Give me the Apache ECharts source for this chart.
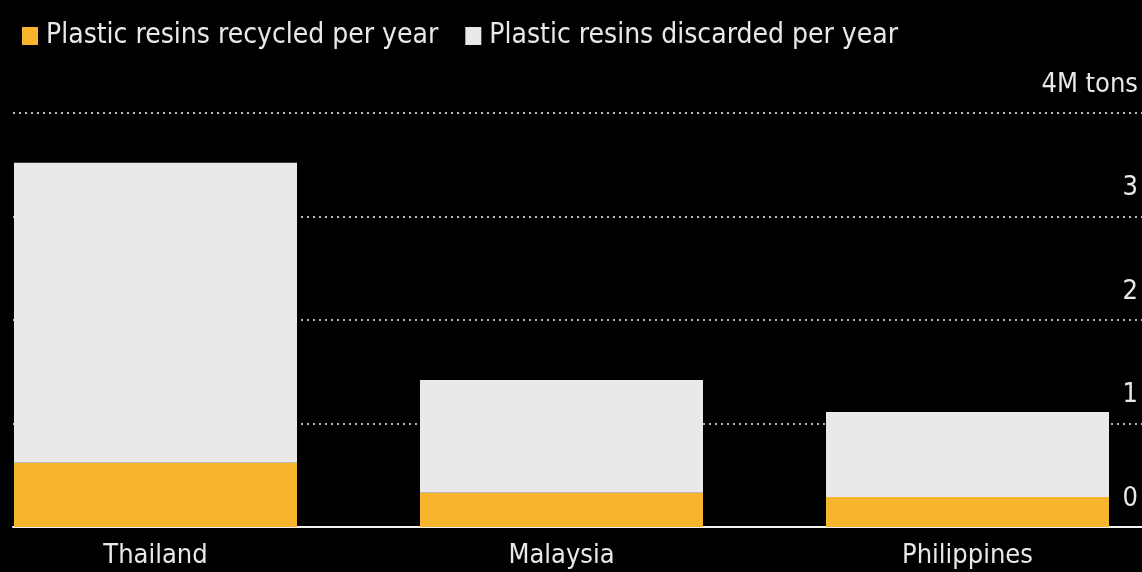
<!DOCTYPE html>
<html>
<head>
<meta charset="utf-8">
<script src="https://cdn.jsdelivr.net/npm/echarts@6/dist/echarts.min.js"></script>
<style>
html,body{margin:0;padding:0;background:#000;}
#chart{width:1142px;height:572px;}
</style>
</head>
<body>
<div id="chart"></div>
<script>
const categories = ['Thailand', 'Malaysia', 'Philippines'];
const recycled = [0.62, 0.33, 0.29];
const discarded = [2.90, 1.09, 0.82];
const yTickLabels = {0: '0', 1: '1', 2: '2', 3: '3', 4: '4M tons'};
const seriesNames = ['Plastic resins recycled per year', 'Plastic resins discarded per year'];

const FONT = '"DejaVu Sans Condensed", "DejaVu Sans", sans-serif';
const chart = echarts.init(document.getElementById('chart'));
chart.setOption({
  backgroundColor: '#000',
  animation: false,
  textStyle: {fontFamily: FONT},
  legend: {
    left: 17, top: 17,
    itemWidth: 16, itemHeight: 18, itemGap: 27,
    icon: 'rect',
    textStyle: {color: '#e8e8e8', fontSize: 28, fontFamily: FONT, padding: [0,0,0,3]},
    data: seriesNames
  },
  grid: [
    {left: 13, right: 0, top: 113, bottom: 45},
    {left: 155.5, right: 174.5, top: 113, bottom: 45}
  ],
  xAxis: [
    {gridIndex: 0, type: 'value', min: 0, max: 1,
     axisLine: {show: true, lineStyle: {color: '#f2f2f2', width: 2}},
     axisTick: {show: false}, axisLabel: {show: false}, splitLine: {show: false}},
    {gridIndex: 1, type: 'category', data: categories, boundaryGap: false,
     axisLine: {show: false}, axisTick: {show: false},
     axisLabel: {color: '#e8e8e8', fontSize: 27, fontFamily: FONT, margin: 15}}
  ],
  yAxis: [
    {gridIndex: 0, type: 'value', min: 0, max: 4, interval: 1, position: 'right',
     axisLine: {show: false}, axisTick: {show: false},
     axisLabel: {inside: true, margin: 4, color: '#e8e8e8', fontSize: 27, fontFamily: FONT,
       verticalAlign: 'bottom', padding: [0,0,15,0],
       formatter: v => yTickLabels[v]},
     splitLine: {show: true, lineStyle: {color: '#b8b8b8', width: 2, type: [2, 4]}}},
    {gridIndex: 1, type: 'value', min: 0, max: 4, interval: 1, show: false}
  ],
  series: [
    {name: seriesNames[0], type: 'bar', stack: 't', xAxisIndex: 1, yAxisIndex: 1, clip: false,
     data: recycled, barWidth: 283, itemStyle: {color: '#f6b52c'}},
    {name: seriesNames[1], type: 'bar', stack: 't', xAxisIndex: 1, yAxisIndex: 1, clip: false,
     data: discarded, barWidth: 283, itemStyle: {color: '#e9e9e9'}}
  ]
});
</script>
</body>
</html>
